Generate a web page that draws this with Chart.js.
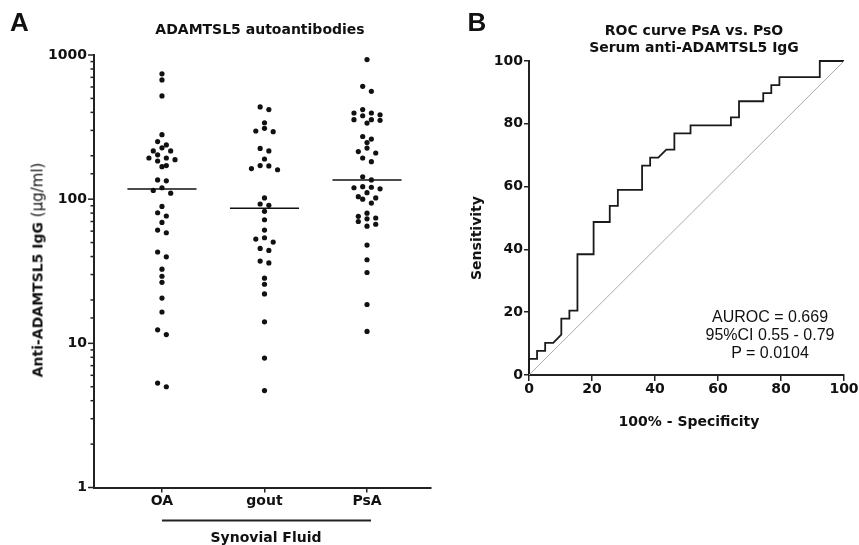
<!DOCTYPE html>
<html>
<head>
<meta charset="utf-8">
<script src="https://cdn.jsdelivr.net/npm/chart.js@4.4.1/dist/chart.umd.min.js"></script>
<style>
  html, body { margin: 0; padding: 0; background: #fff; }
  #wrap { position: relative; width: 859px; height: 545px; overflow: hidden; font-family: 'DejaVu Sans', sans-serif; color: #111; }
  canvas { position: absolute; top: 0; }
  .t { position: absolute; transform: translate(-50%, -50%); white-space: nowrap; line-height: 1; }
  .b { font-weight: bold; font-size: 14px; }
  .rot { transform: translate(-50%, -50%) rotate(-90deg); }
  .letter { font-family: 'Liberation Sans', Arial, sans-serif; font-weight: bold; font-size: 26px; }
  .note { font-family: 'Liberation Sans', Arial, sans-serif; font-size: 16px; }
  .unit { font-weight: normal; font-size: 15px; }
</style>
</head>
<body>
<div id="wrap">
  <canvas id="dots" width="440" height="545" style="left:0"></canvas>
  <canvas id="roc" width="429" height="545" style="left:430px"></canvas>

  <div class="t letter" style="left:19.5px;top:21.5px">A</div>
  <div class="t b" style="left:260px;top:29px">ADAMTSL5 autoantibodies</div>
  <div class="t b rot" style="left:37.5px;top:270px">Anti-ADAMTSL5 IgG <span class="unit">(µg/ml)</span></div>
  <div class="t b" style="left:266px;top:537px">Synovial Fluid</div>

  <div class="t letter" style="left:477px;top:21.5px">B</div>
  <div class="t b" style="left:694px;top:30px">ROC curve PsA vs. PsO</div>
  <div class="t b" style="left:694px;top:47px">Serum anti-ADAMTSL5 IgG</div>
  <div class="t b rot" style="left:476px;top:238px">Sensitivity</div>
  <div class="t b" style="left:689px;top:421px">100% - Specificity</div>
  <div class="t note" style="left:770px;top:317px">AUROC = 0.669</div>
  <div class="t note" style="left:770px;top:335px">95%CI 0.55 - 0.79</div>
  <div class="t note" style="left:770px;top:353px">P = 0.0104</div>
</div>

<script>
// Panel A: synovial fluid anti-ADAMTSL5 IgG (µg/ml)
const groups = ['OA', 'gout', 'PsA'];
const oaValues = [740, 672, 520, 280, 251, 238, 227, 216, 216, 203, 193, 193, 188, 184, 171, 168, 136, 134,
  120, 115, 110, 89, 80.5, 76.4, 69, 61, 58.5, 43, 39.8, 32.7, 29.2, 26.5, 20.6, 16.5, 12.4, 11.5, 5.3, 5.0];
const goutValues = [436, 418, 339, 310, 297, 294, 225, 216, 190, 171, 170, 163, 160, 102, 92.6, 90.7, 82.4,
  72, 61, 54, 52.9, 50.4, 45.5, 44.1, 37.2, 36.1, 28.3, 25.7, 22.0, 14.1, 7.9, 4.7];
const psaValues = [930, 606, 560, 418, 396, 396, 385, 379, 356, 356, 352, 337, 272, 261, 247, 226, 214, 209,
  193, 182, 143, 136, 122, 121, 120, 118, 111, 104, 102, 100, 94, 80, 76, 74, 73, 70, 67, 65, 48, 38, 31, 18.6, 12.1];
const decadeTicks = [1, 10, 100, 1000];

// Panel B: ROC curve vertices (100% - specificity, sensitivity)
const fpr = [0, 0, 2.56, 2.56, 5.13, 5.13, 7.69, 10.26, 10.26, 12.82, 12.82, 15.38, 15.38, 20.51, 20.51,
  25.64, 25.64, 28.21, 28.21, 35.9, 35.9, 38.46, 38.46, 41.03, 43.59, 46.15, 46.15, 51.28, 51.28, 64.1, 64.1,
  66.67, 66.67, 74.36, 74.36, 76.92, 76.92, 79.49, 79.49, 92.31, 92.31, 100];
const tpr = [0, 5.13, 5.13, 7.69, 7.69, 10.26, 10.26, 12.82, 17.95, 17.95, 20.51, 20.51, 38.46, 38.46, 48.72,
  48.72, 53.85, 53.85, 58.97, 58.97, 66.67, 66.67, 69.23, 69.23, 71.79, 71.79, 76.92, 76.92, 79.49, 79.49,
  82.05, 82.05, 87.18, 87.18, 89.74, 89.74, 92.31, 92.31, 94.87, 94.87, 100, 100];
const rocTicks = [0, 20, 40, 60, 80, 100];

const ink = '#111';
const axisColor = '#222';
const tickFont = { family: 'DejaVu Sans', size: 14, weight: 'bold' };
const DOT_STEP = 8.7;   // px between dots side by side
const ROW_GAP = 5.5;    // px, dots closer than this share a row
const MEDIAN_HALF = 0.337;

Chart.defaults.font.family = 'DejaVu Sans';
Chart.defaults.color = ink;

function median(arr) {
  const s = [...arr].sort((a, b) => a - b);
  const m = Math.floor(s.length / 2);
  return s.length % 2 ? s[m] : (s[m - 1] + s[m]) / 2;
}

// simple beeswarm: dots that would overlap are laid side by side, centred on the group
function swarm(values, yScale, pxPerUnit, center) {
  const pts = values.map(v => ({ v, py: yScale.getPixelForValue(v) })).sort((a, b) => a.py - b.py);
  const out = [];
  let row = [];
  const flush = () => {
    const n = row.length;
    const slots = row.map((_, i) => (i - (n - 1) / 2) * DOT_STEP)
      .sort((a, b) => Math.abs(a) - Math.abs(b) || a - b);
    row.forEach((p, i) => out.push({ x: center + slots[i] / pxPerUnit, y: p.v }));
    row = [];
  };
  pts.forEach(p => {
    if (row.length && p.py - row[0].py > ROW_GAP) flush();
    row.push(p);
  });
  flush();
  return out;
}

// log axis tick marks (long at decades, short in between) + "Synovial Fluid" bar
const panelADecor = {
  id: 'panelADecor',
  afterDraw(chart) {
    const { ctx, scales: { x, y } } = chart;
    ctx.save();
    ctx.strokeStyle = axisColor;
    ctx.lineWidth = 1.5;
    y.ticks.forEach(t => {
      const py = y.getPixelForValue(t.value);
      const len = decadeTicks.includes(t.value) ? 6 : 3.5;
      ctx.beginPath();
      ctx.moveTo(y.right - len, py);
      ctx.lineTo(y.right, py);
      ctx.stroke();
    });
    ctx.lineWidth = 2;
    ctx.beginPath();
    ctx.moveTo(x.getPixelForValue(1), 520.5);
    ctx.lineTo(x.getPixelForValue(3) + 4, 520.5);
    ctx.stroke();
    ctx.restore();
  }
};

const groupValues = [oaValues, goutValues, psaValues];

const dotsChart = new Chart(document.getElementById('dots'), {
  data: {
    datasets: [
      ...groupValues.map(vals => ({
        type: 'scatter',
        data: [],
        pointRadius: 2.6,
        pointBackgroundColor: ink,
        pointBorderWidth: 0,
        clip: false
      })),
      ...groupValues.map((vals, i) => {
        const m = median(vals);
        return {
          type: 'line',
          data: [{ x: i + 1 - MEDIAN_HALF, y: m }, { x: i + 1 + MEDIAN_HALF, y: m }],
          borderColor: ink,
          borderWidth: 1.5,
          pointRadius: 0
        };
      })
    ]
  },
  options: {
    responsive: false,
    animation: false,
    layout: { padding: { left: 0, top: 55, right: 9, bottom: 0 } },
    plugins: { legend: { display: false }, tooltip: { enabled: false } },
    scales: {
      x: {
        type: 'linear',
        min: 0.337,
        max: 3.624,
        afterBuildTicks: s => { s.ticks = [1, 2, 3].map(v => ({ value: v })); },
        afterFit: s => { s.height = 57.5; },
        grid: { drawOnChartArea: false, drawTicks: true, tickLength: 5, tickColor: axisColor, lineWidth: 1.5 },
        border: { color: axisColor, width: 2 },
        ticks: { font: tickFont, color: ink, padding: 0, autoSkip: false, maxRotation: 0,
          callback: v => groups[v - 1] }
      },
      y: {
        type: 'logarithmic',
        min: 1,
        max: 1000,
        afterFit: s => { s.width = 94; },
        grid: { drawOnChartArea: false, drawTicks: false },
        border: { color: axisColor, width: 2 },
        ticks: { font: tickFont, color: ink, padding: 7, autoSkip: false,
          callback: v => decadeTicks.includes(v) ? String(v) : '' }
      }
    }
  },
  plugins: [panelADecor]
});

// spread the dots now that the scales exist
{
  const { x, y } = dotsChart.scales;
  const pxPerUnit = x.getPixelForValue(2) - x.getPixelForValue(1);
  groupValues.forEach((vals, i) => {
    dotsChart.data.datasets[i].data = swarm(vals, y, pxPerUnit, i + 1);
  });
  dotsChart.update('none');
}

new Chart(document.getElementById('roc'), {
  type: 'line',
  data: {
    datasets: [
      {
        data: [{ x: 0, y: 0 }, { x: 100, y: 100 }],
        borderColor: '#aaa',
        borderWidth: 1,
        pointRadius: 0,
        clip: false
      },
      {
        data: fpr.map((v, i) => ({ x: v, y: tpr[i] })),
        borderColor: '#1a1a1a',
        borderWidth: 1.8,
        pointRadius: 0,
        tension: 0,
        clip: false
      }
    ]
  },
  options: {
    responsive: false,
    animation: false,
    layout: { padding: { left: 0, top: 61, right: 15, bottom: 0 } },
    plugins: { legend: { display: false }, tooltip: { enabled: false } },
    scales: {
      x: {
        type: 'linear',
        min: 0,
        max: 100,
        afterBuildTicks: s => { s.ticks = rocTicks.map(v => ({ value: v })); },
        afterFit: s => { s.height = 170; },
        grid: { drawOnChartArea: false, drawTicks: true, tickLength: 6, tickColor: axisColor, lineWidth: 1.5 },
        border: { color: axisColor, width: 2 },
        ticks: { font: tickFont, color: ink, padding: 0, autoSkip: false, maxRotation: 0 }
      },
      y: {
        type: 'linear',
        min: 0,
        max: 100,
        afterBuildTicks: s => { s.ticks = rocTicks.map(v => ({ value: v })); },
        afterFit: s => { s.width = 99; },
        grid: { drawOnChartArea: false, drawTicks: true, tickLength: 5, tickColor: axisColor, lineWidth: 1.5 },
        border: { color: axisColor, width: 2 },
        ticks: { font: tickFont, color: ink, padding: 1, autoSkip: false }
      }
    }
  }
});
</script>
</body>
</html>
